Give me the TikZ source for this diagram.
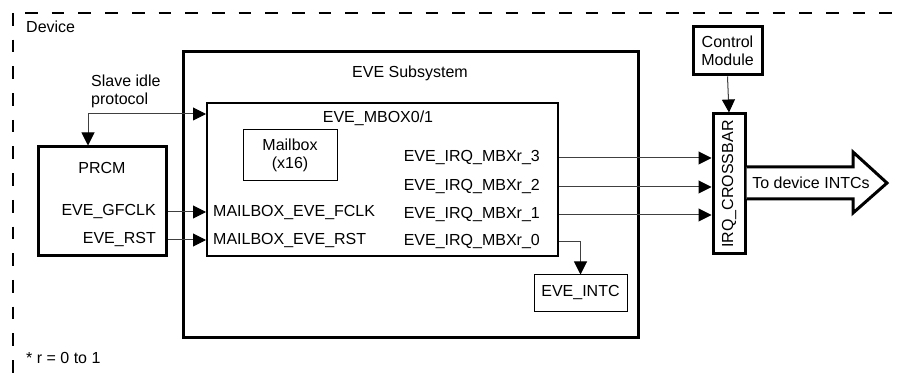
\documentclass[tikz,border=0pt]{standalone}
\usepackage{fontspec}
\setmainfont{Liberation Sans}
\usetikzlibrary{arrows.meta}

\begin{document}
\begin{tikzpicture}[x=1pt, y=-1pt,
        every node/.style={font=\fontsize{16}{17.5}\selectfont, inner sep=0pt},
        block/.style={draw, line width=3pt, rectangle},
        small/.style={draw, line width=1pt, rectangle},
        tip/.tip={Triangle[length=13pt, width=13pt, color=black]},
        sig/.style={line width=1pt, draw=black!75, -tip}]
        \tikzstyle{device}=[line width=2pt, dash pattern=on 12.7pt off 14pt]
        \useasboundingbox (0, 0) rectangle (899, 379);

        \draw[device] (13, 13) -- (13, 379) (25, 13) -- (899, 13);
        \node[anchor=west] (dev) at (26, 27) {Device};
        \node[anchor=west] (note) at (26, 358) {* r = 0 to 1};

        \node[block, minimum width=455, minimum height=285] (sub)  at (410.5, 194.5) {};
        \node                                               (subl) at (410, 73) {EVE Subsystem};
        \node[draw, line width=2pt, minimum width=351, minimum height=153] (mbox) at (382.5, 179.5) {};
        \node                                               (mboxl) at (378, 118) {EVE\_MBOX0/1};
        \node[small, minimum width=94, minimum height=51, align=center] (mailbox) at (290, 155.5) {Mailbox\\(x16)};
        \node[small, minimum width=93, minimum height=36]  (intc) at (580.5, 293) {EVE\_INTC};
        \node[block, minimum width=128, minimum height=109] (prcm) at (102, 201.5) {};
        \node                                               (prcml) at (102, 168) {PRCM};
        \node[block, minimum width=69, minimum height=48, align=center] (ctrl) at (727.5, 51) {Control\\Module};
        \node[block, minimum width=32, minimum height=140]  (xbar) at (729, 184) {};
        \node[rotate=90]                                    (xbarl) at (729, 184) {IRQ\_CROSSBAR};

        \node[anchor=east] (gfclk) at (156, 212) {EVE\_GFCLK};
        \node[anchor=east] (rst)   at (156, 240) {EVE\_RST};
        \node[anchor=west] (fclk)  at (213, 213) {MAILBOX\_EVE\_FCLK};
        \node[anchor=west] (mrst)  at (213, 241) {MAILBOX\_EVE\_RST};
        \node[anchor=east] (irq3)  at (540, 158) {EVE\_IRQ\_MBXr\_3};
        \node[anchor=east] (irq2)  at (540, 187) {EVE\_IRQ\_MBXr\_2};
        \node[anchor=east] (irq1)  at (540, 215) {EVE\_IRQ\_MBXr\_1};
        \node[anchor=east] (irq0)  at (540, 242) {EVE\_IRQ\_MBXr\_0};

        \node[anchor=west, align=left] (idlel) at (91, 91.5) {Slave idle\\protocol};
        \coordinate (idle) at (88, 114);

        \draw[sig, tip-tip] (idle -| mbox.west) -- (idle) -- (idle |- prcm.north);
        \draw[sig] (gfclk -| prcm.east) -- (gfclk -| mbox.west);
        \draw[sig] (rst -| prcm.east) -- (rst -| mbox.west);
        \draw[sig] (irq3 -| mbox.east) -- (irq3 -| xbar.west);
        \draw[sig] (irq2 -| mbox.east) -- (irq2 -| xbar.west);
        \draw[sig] (irq1 -| mbox.east) -- (irq1 -| xbar.west);
        \draw[sig] (irq0 -| mbox.east) -| (intc.north);
        \draw[sig] (ctrl.south) -- (xbar.north);

        \draw[line width=3pt, line join=miter, fill=white]
            (xbar.east |- 0, 167) -- (853, 167) -- (853, 152) -- (887, 183)
            -- (853, 213) -- (853, 199) -- (xbar.east |- 0, 199);
        \node (out) at (811, 183) {To device INTCs};
    \end{tikzpicture}
\end{document}
